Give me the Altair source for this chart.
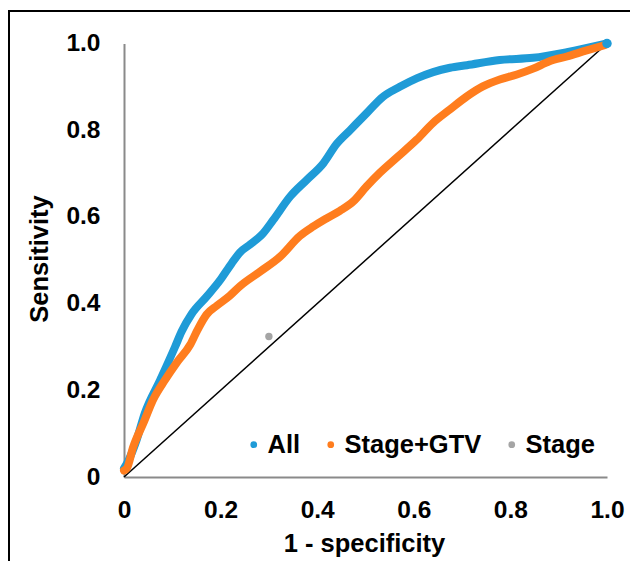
import altair as alt
import pandas as pd

# ---- data ----
all_x = [0.0, 0.010, 0.026, 0.043, 0.075, 0.106, 0.119, 0.140, 0.171, 0.199, 0.223,
         0.240, 0.262, 0.288, 0.309, 0.344, 0.378, 0.413, 0.440, 0.468, 0.503, 0.536,
         0.571, 0.607, 0.640, 0.675, 0.710, 0.778, 0.847, 0.917, 1.0]
all_y = [0.02, 0.04, 0.085, 0.147, 0.224, 0.301, 0.335, 0.376, 0.416, 0.454, 0.493,
         0.518, 0.537, 0.562, 0.593, 0.647, 0.685, 0.724, 0.768, 0.800, 0.840, 0.877,
         0.900, 0.920, 0.934, 0.944, 0.950, 0.962, 0.967, 0.980, 1.0]

sg_x = [0.0, 0.006, 0.019, 0.040, 0.061, 0.085, 0.110, 0.137, 0.152, 0.171, 0.192,
        0.219, 0.240, 0.282, 0.323, 0.364, 0.392, 0.420, 0.447, 0.475, 0.502, 0.530,
        0.565, 0.606, 0.640, 0.675, 0.710, 0.743, 0.778, 0.812, 0.847, 0.881, 0.917,
        0.958, 0.995]
sg_y = [0.015, 0.02, 0.069, 0.124, 0.180, 0.224, 0.265, 0.305, 0.339, 0.375, 0.395,
        0.418, 0.440, 0.474, 0.508, 0.556, 0.578, 0.597, 0.614, 0.636, 0.670, 0.702,
        0.737, 0.778, 0.817, 0.848, 0.878, 0.901, 0.917, 0.928, 0.942, 0.959, 0.970,
        0.984, 0.996]

stage_x = [0.30]
stage_y = [0.324]

diag_x = [0.0, 1.0]
diag_y = [0.0, 1.0]

series = ["All", "Stage+GTV", "Stage"]
colors = ["#1F9BD7", "#FF7D1E", "#A5A5A5"]
ticks = [0, 0.2, 0.4, 0.6, 0.8, 1.0]

FONT = "Liberation Sans"

df_all = pd.DataFrame({"x": all_x, "y": all_y, "s": "All"})
df_sg = pd.DataFrame({"x": sg_x, "y": sg_y, "s": "Stage+GTV"})
df_stage = pd.DataFrame({"x": stage_x, "y": stage_y, "s": "Stage"})
df_diag = pd.DataFrame({"x": diag_x, "y": diag_y})
df_end = pd.DataFrame({"x": all_x[-1:], "y": all_y[-1:]})

xaxis = alt.Axis(
    values=ticks, title="1 - specificity", grid=False, ticks=False, tickSize=0,
    labelExpr="datum.value == 0 ? '0' : format(datum.value, '.1f')",
    labelFont=FONT, labelFontSize=24.5, labelFontWeight="bold", labelColor="black",
    labelPadding=21, domainColor="#8a8a8a", domainWidth=2,
    titleFont=FONT, titleFontSize=25.5, titleFontWeight="bold", titleColor="black",
    titleX=240, titleY=74, titleBaseline="alphabetic", titleAnchor="start", titleAlign="center",
    labelFlush=False, labelOverlap=False,
)
yaxis = alt.Axis(
    values=ticks, title="Sensitivity", grid=False, ticks=False, tickSize=0,
    labelExpr="datum.value == 0 ? '0' : format(datum.value, '.1f')",
    labelFont=FONT, labelFontSize=24.5, labelFontWeight="bold", labelColor="black",
    labelPadding=24, domainColor="#8a8a8a", domainWidth=2,
    titleFont=FONT, titleFontSize=25.5, titleFontWeight="bold", titleColor="black",
    titleX=-77, titleY=215, titleAngle=270, titleBaseline="alphabetic", titleAlign="center",
    labelFlush=False, labelOverlap=False,
)

xs = alt.Scale(domain=[0, 1], nice=False, zero=False)
ys = alt.Scale(domain=[0, 1], nice=False, zero=False)
X = alt.X("x:Q", scale=xs, axis=xaxis)
Y = alt.Y("y:Q", scale=ys, axis=yaxis)

frame = alt.Chart(pd.DataFrame({"f": [0]})).mark_rect(
    fill="transparent", stroke="black", strokeWidth=2
).encode(
    x=alt.value(-115), x2=alt.value(560), y=alt.value(-32.5), y2=alt.value(560)
)

diag = alt.Chart(df_diag).mark_line(color="black", strokeWidth=1.5).encode(x=X, y=Y)

line_all = alt.Chart(df_all).mark_line(
    color=colors[0], strokeWidth=8, strokeCap="round", strokeJoin="round", interpolate="monotone"
).encode(x=X, y=Y)

line_sg = alt.Chart(df_sg).mark_line(
    color=colors[1], strokeWidth=8, strokeCap="round", strokeJoin="round", interpolate="monotone"
).encode(x=X, y=Y)

end_pt = alt.Chart(df_end).mark_circle(size=90, opacity=1, color=colors[0]).encode(x=X, y=Y)

stage_pt = alt.Chart(df_stage).mark_circle(size=55, opacity=1).encode(
    x=X, y=Y,
    fill=alt.Fill(
        "s:N",
        scale=alt.Scale(domain=series, range=colors),
        legend=alt.Legend(
            title=None, orient="none", direction="horizontal",
            legendX=117, legendY=388,
            symbolType="circle", symbolSize=45, symbolStrokeWidth=0, symbolOpacity=1,
            labelFont=FONT, labelFontSize=25.5, labelFontWeight="bold", labelColor="black",
            labelOffset=1, columnPadding=17, labelLimit=400, padding=0,
        ),
    ),
)

chart = alt.layer(frame, diag, line_all, line_sg, end_pt, stage_pt).properties(
    width=483,
    height=433.5,
    autosize=alt.AutoSizeParams(type="none"),
    padding={"left": 116, "top": 35.5, "right": 23, "bottom": 84},
    background="white",
).configure_view(stroke=None)

chart.save("out.html", embed_options={"renderer": "svg", "actions": False})
